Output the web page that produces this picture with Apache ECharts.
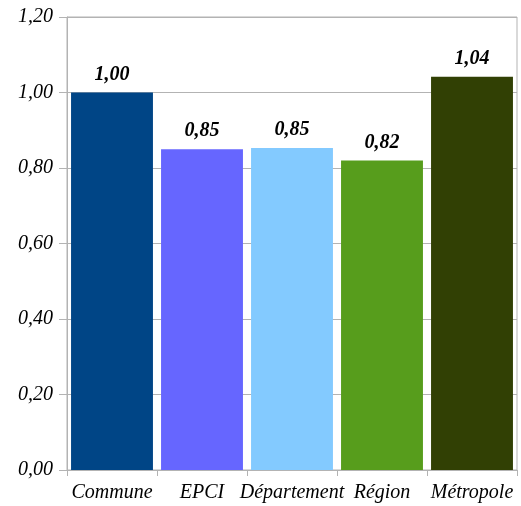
<!DOCTYPE html>
<html><head><meta charset="utf-8">
<script src="https://cdn.jsdelivr.net/npm/echarts@6/dist/echarts.min.js"></script>
<style>html,body{margin:0;padding:0;background:#fff}#c{width:521px;height:506px}</style>
</head><body><div id="c"></div>
<script>
const categories = ['Commune', 'EPCI', 'Département', 'Région', 'Métropole'];
const values = [1.00, 0.85, 0.853, 0.82, 1.042];
const colors = ['#004586', '#6666ff', '#83caff', '#579d1c', '#314004'];
const yTicks = [0, 0.2, 0.4, 0.6, 0.8, 1.0, 1.2];

const fmt = v => v.toFixed(2).replace('.', ',');
const chart = echarts.init(document.getElementById('c'), null, {renderer: 'canvas'});
chart.setOption({
  animation: false,
  grid: {left: 67, right: 4, top: 17, bottom: 36, show: true, borderColor: '#b3b3b3', borderWidth: 1},
  xAxis: {
    type: 'category', data: categories,
    axisLine: {lineStyle: {color: '#b3b3b3'}},
    axisTick: {show: true, alignWithLabel: false, length: 6, lineStyle: {color: '#b3b3b3'}},
    axisLabel: {color: '#000', fontFamily: 'Liberation Serif', fontStyle: 'italic', fontSize: 20, margin: 13, interval: 0}
  },
  yAxis: {
    type: 'value', min: yTicks[0], max: yTicks[yTicks.length - 1], interval: 0.2,
    axisLine: {show: true, lineStyle: {color: '#b3b3b3'}},
    axisTick: {show: true, length: 8, lineStyle: {color: '#b3b3b3'}},
    splitLine: {lineStyle: {color: '#b3b3b3'}},
    axisLabel: {color: '#000', fontFamily: 'Liberation Serif', fontStyle: 'italic', fontSize: 20, margin: 14, formatter: v => fmt(v)}
  },
  series: [{
    type: 'bar', barCategoryGap: '9%',
    data: values.map((v, i) => ({value: v, itemStyle: {color: colors[i]}})),
    label: {show: true, position: 'top', distance: 8, color: '#000', fontFamily: 'Liberation Serif', fontStyle: 'italic', fontWeight: 'bold', fontSize: 20,
      formatter: p => fmt(p.value)}
  }]
});
</script></body></html>
